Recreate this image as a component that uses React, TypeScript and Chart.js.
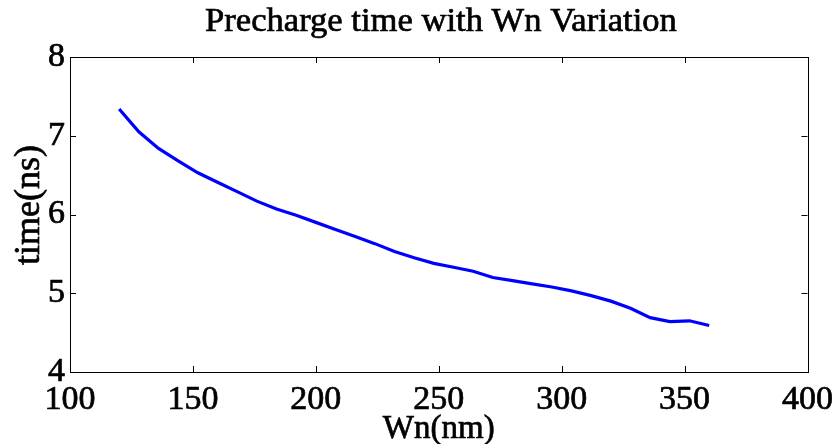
import React, { useEffect, useRef } from "react";
import { Chart, registerables } from "chart.js";

Chart.register(...registerables);

const titleText = "Precharge time with Wn Variation";
const xAxisLabel = "Wn(nm)";
const yAxisLabel = "time(ns)";

const wnValues = [
  120, 128, 136, 144, 152, 160, 168, 176, 184, 192, 200, 208, 216, 224, 232, 240,
  248, 256, 264, 272, 280, 288, 296, 304, 312, 320, 328, 336, 344, 352, 360,
];
const timeValues = [
  7.34, 7.05, 6.84, 6.68, 6.53, 6.41, 6.29, 6.17, 6.07, 5.99, 5.9, 5.81, 5.72, 5.63, 5.53, 5.45,
  5.38, 5.33, 5.28, 5.2, 5.16, 5.12, 5.08, 5.03, 4.97, 4.9, 4.81, 4.69, 4.64, 4.65, 4.59,
];
const xTicks = [100, 150, 200, 250, 300, 350, 400];
const yTicks = [4, 5, 6, 7, 8];

const FONT = "'Liberation Serif', 'Times New Roman', serif";
const STROKE = 0.7;

function heavyText(ctx: CanvasRenderingContext2D, text: string, x: number, y: number) {
  ctx.fillText(text, x, y);
  ctx.lineWidth = STROKE;
  ctx.strokeStyle = "#000";
  ctx.strokeText(text, x, y);
}

const framePlugin = {
  id: "frame",
  afterDraw(chart: any) {
    const { ctx, chartArea } = chart;
    const xs = chart.scales.x;
    const ys = chart.scales.y;
    const { left, right, top, bottom } = chartArea;
    const tl = 6;
    ctx.save();
    ctx.strokeStyle = "#000";
    ctx.lineWidth = 1;
    ctx.beginPath();
    for (const v of xTicks) {
      const px = Math.round(xs.getPixelForValue(v)) + 0.5;
      if (v !== xTicks[0] && v !== xTicks[xTicks.length - 1]) {
        ctx.moveTo(px, bottom);
        ctx.lineTo(px, bottom - tl);
        ctx.moveTo(px, top);
        ctx.lineTo(px, top + tl);
      }
    }
    for (const v of yTicks) {
      const py = Math.round(ys.getPixelForValue(v)) + 0.5;
      if (v !== yTicks[0] && v !== yTicks[yTicks.length - 1]) {
        ctx.moveTo(left, py);
        ctx.lineTo(left + tl, py);
        ctx.moveTo(right, py);
        ctx.lineTo(right - tl, py);
      }
    }
    ctx.stroke();
    ctx.strokeRect(Math.round(left) + 0.5, Math.round(top) + 0.5, Math.round(right - left), Math.round(bottom - top));

    ctx.fillStyle = "#000";
    ctx.textAlign = "center";

    // chart title
    ctx.font = `34.6px ${FONT}`;
    ctx.textBaseline = "alphabetic";
    heavyText(ctx, titleText, 441, 31);

    // x-axis title
    ctx.font = `33px ${FONT}`;
    ctx.textBaseline = "middle";
    heavyText(ctx, xAxisLabel, (left + right) / 2, 429.5);

    // y-axis title (rotated)
    ctx.textBaseline = "alphabetic";
    ctx.translate(38.5, 205);
    ctx.rotate(-Math.PI / 2);
    ctx.font = `36px ${FONT}`;
    heavyText(ctx, yAxisLabel, 0, 0);
    ctx.restore();
  },
};

const whiteBg = {
  id: "whiteBg",
  beforeDraw(chart: any) {
    const { ctx, width, height } = chart;
    ctx.save();
    ctx.fillStyle = "#fff";
    ctx.fillRect(0, 0, width, height);
    ctx.restore();
  },
};

export default function App() {
  const ref = useRef<HTMLCanvasElement>(null);

  useEffect(() => {
    document.body.style.margin = "0";
    const canvas = ref.current;
    if (!canvas) return;
    const chart = new Chart(canvas, {
      type: "line",
      data: {
        datasets: [
          {
            data: wnValues.map((x, i) => ({ x, y: timeValues[i] })),
            borderColor: "rgb(0,0,255)",
            borderWidth: 3.2,
            pointRadius: 0,
            tension: 0,
            fill: false,
          },
        ],
      },
      options: {
        responsive: false,
        animation: false,
        layout: { padding: { left: 0, right: 28.5, top: 57, bottom: 0 } },
        plugins: {
          legend: { display: false },
          tooltip: { enabled: false },
          title: { display: false },
        },
        scales: {
          x: {
            type: "linear",
            min: 100,
            max: 400,
            afterFit(scale: any) {
              scale.height = 72;
              scale.paddingLeft = 0;
              scale.paddingRight = 0;
            },
            afterBuildTicks(scale: any) {
              scale.ticks = xTicks.map((v) => ({ value: v }));
            },
            grid: { display: false, drawTicks: false },
            border: { display: false },
            ticks: {
              color: "#000",
              padding: 11,
              maxRotation: 0,
              autoSkip: false,
              textStrokeColor: "#000",
              textStrokeWidth: STROKE,
              font: { family: FONT, size: 34, lineHeight: 1 },
            },
            title: { display: false },
          },
          y: {
            type: "linear",
            min: 4,
            max: 8,
            afterFit(scale: any) {
              scale.width = 70;
            },
            afterBuildTicks(scale: any) {
              scale.ticks = yTicks.map((v) => ({ value: v }));
            },
            grid: { display: false, drawTicks: false },
            border: { display: false },
            ticks: {
              color: "#000",
              padding: 5,
              autoSkip: false,
              textStrokeColor: "#000",
              textStrokeWidth: STROKE,
              font: { family: FONT, size: 34, lineHeight: 1 },
            },
          },
        },
      },
      plugins: [whiteBg, framePlugin],
    });
    return () => chart.destroy();
  }, []);

  return (
    <div style={{ width: 836, height: 444 }}>
      <canvas ref={ref} width={836} height={444} style={{ display: "block" }} />
    </div>
  );
}
